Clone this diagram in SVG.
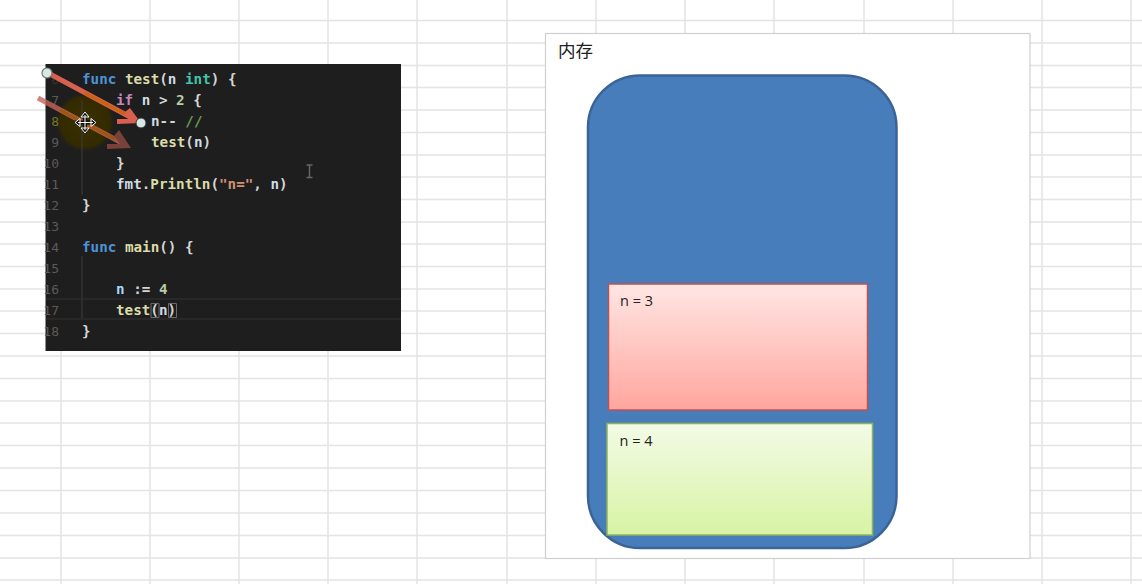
<svg xmlns="http://www.w3.org/2000/svg" width="1142" height="584" viewBox="0 0 1142 584">
<style>
.g{stroke:#e4e4e4;stroke-width:1.5;fill:none}
.c{font-family:"DejaVu Sans Mono","Liberation Mono",monospace;font-size:14.25px;font-weight:700;fill:#d4d4d4}
.ln{font-family:"DejaVu Sans Mono","Liberation Mono",monospace;font-size:13px;fill:#5a5a5a;text-anchor:end}
.k{fill:#4d93d6}.f{fill:#dcdcaa}.t{fill:#45c4ab}.p{fill:#c586c0}.v{fill:#a5d6f5}.w{fill:#d0dce4}.n{fill:#b5cea8}.s{fill:#ce9178}.m{fill:#6a9955}
.lab{font-family:"Open Sans","Liberation Sans",Arial,sans-serif;font-size:14.5px;fill:#222}
</style>
<defs>
<linearGradient id="red" x1="0" y1="0" x2="0" y2="1"><stop offset="0" stop-color="#ffe6e4"/><stop offset="1" stop-color="#ffa69e"/></linearGradient>
<linearGradient id="green" x1="0" y1="0" x2="0" y2="1"><stop offset="0" stop-color="#f3fbe6"/><stop offset="1" stop-color="#d8f3a4"/></linearGradient>
<radialGradient id="glow"><stop offset="0" stop-color="#3a3000"/><stop offset=".8" stop-color="#332a00"/><stop offset="1" stop-color="#1e1e1e" stop-opacity="0"/></radialGradient>
</defs>
<rect width="1142" height="584" fill="#fff"/>
<g id="grid">
<path class="g" d="M61 0V584M150 0V584M239 0V584M328 0V584M417 0V584M507 0V584M596 0V584M685 0V584M774 0V584M864 0V584M953 0V584M1042 0V584M1131 0V584"/>
<path class="g" d="M0 20.500H1142M0 43H1142M0 65.500H1142M0 87.500H1142M0 110H1142M0 132.500H1142M0 155H1142M0 177H1142M0 199.500H1142M0 222H1142M0 244H1142M0 266.500H1142M0 289H1142M0 311H1142M0 333.500H1142M0 356H1142M0 378.500H1142M0 401H1142M0 423H1142M0 445.500H1142M0 468H1142M0 490.500H1142M0 513H1142M0 535.500H1142M0 558H1142M0 580H1142"/>
</g>
<g id="code-panel">
<rect x="45.500" y="64" width="355.500" height="287" fill="#1e1e1e"/>
<circle cx="85" cy="122" r="31" fill="url(#glow)"/>
<path d="M82 100V195M82 256V318" stroke="#3c3c3c" stroke-width="1" fill="none"/>
<path d="M46 299H401M46 319H401" stroke="#333" stroke-width="1" fill="none"/>
<g class="ln">
<text x="59" y="84" style="fill:#333">6</text><text x="59" y="105">7</text><text x="59" y="126" style="fill:#77772a">8</text><text x="59" y="147">9</text><text x="59" y="168">10</text><text x="59" y="189">11</text><text x="59" y="210">12</text><text x="59" y="231">13</text><text x="59" y="252">14</text><text x="59" y="273">15</text><text x="59" y="294">16</text><text x="59" y="315">17</text><text x="59" y="336">18</text>
</g>
<g class="c">
<text x="82" y="84"><tspan class="k">func</tspan> <tspan class="f">test</tspan>(<tspan class="w">n</tspan> <tspan class="t">int</tspan>) {</text>
<text x="116" y="105"><tspan class="p">if</tspan> <tspan class="w">n</tspan> &gt; <tspan class="n">2</tspan> {</text>
<text x="151" y="126"><tspan class="w">n</tspan>-- <tspan class="m">//</tspan></text>
<text x="151" y="147"><tspan class="f">test</tspan>(<tspan class="w">n</tspan>)</text>
<text x="116" y="168">}</text>
<text x="116" y="189"><tspan class="w">fmt</tspan>.<tspan class="f">Println</tspan>(<tspan class="s">"n="</tspan>, <tspan class="w">n</tspan>)</text>
<text x="82" y="210">}</text>
<text x="82" y="252"><tspan class="k">func</tspan> <tspan class="f">main</tspan>() {</text>
<text x="116" y="294"><tspan class="v">n</tspan> := <tspan class="n">4</tspan></text>
<text x="116" y="315"><tspan class="f">test</tspan>(<tspan class="w">n</tspan>)</text>
<text x="82" y="336">}</text>
</g>
<path d="M151 303.500h8v14h-8zM168.500 303.500h8v14h-8z" fill="none" stroke="#6a6a6a" stroke-width="1"/>
</g>
<g id="connectors">
<g opacity=".8">
<line x1="38" y1="98" x2="122" y2="143" stroke="#c9655c" stroke-width="5"/>
<line x1="60" y1="110" x2="115" y2="139" stroke="#b8620f" stroke-width="3"/>
<path d="M107 144L120 144L114 136L119 130L131 148L107 149Z" fill="#8f4a40"/>
</g>
<line x1="50" y1="74" x2="132" y2="118" stroke="#d9604e" stroke-width="5"/>
<line x1="85" y1="93" x2="125" y2="114" stroke="#c8640f" stroke-width="3"/>
<path d="M117 119L131 119L125 112L130 108L141 123L117 124Z" fill="#d9604e"/>
<circle cx="47" cy="73" r="5" fill="#d8e8e4" stroke="#777" stroke-width="1.200"/>
<circle cx="141" cy="123" r="5" fill="#d8e8e4" stroke="#333" stroke-width="1"/>
</g>
<g id="cursors" fill="none">
<path d="M85 112V133M75 122.500H96" stroke="#111" stroke-width="4"/>
<path d="M85 112l-4 5h8zM85 133l-4-5h8zM75 122.500l5-4v8zM96 122.500l-5-4v8z" fill="#111" stroke="#fff" stroke-width="1"/>
<path d="M85 115V130M78 122.500H93" stroke="#fff" stroke-width="1"/>
<path d="M306.500 165h6M306.500 177.500h6M309.500 165v12.500" stroke="#666" stroke-width="1.500"/>
</g>
<g id="memory">
<rect x="545.500" y="33.500" width="484.500" height="525" fill="#fff" stroke="#cfcfcf" stroke-width="1.200"/>
<text x="558" y="57" font-family="'Liberation Sans','Noto Sans CJK SC',sans-serif" font-size="17.500" fill="#222">内存</text>
</g>
<g id="stack">
<rect x="588" y="75.500" width="308.500" height="472.500" rx="52" ry="52" fill="#487dbc" stroke="#3a6496" stroke-width="2.500"/>
</g>
<g id="frame-n3">
<rect x="608.500" y="284" width="259" height="126" fill="url(#red)" stroke="#c0504d" stroke-width="1.500"/>
<text class="lab" x="620" y="306">n = 3</text>
</g>
<g id="frame-n4">
<rect x="607" y="423.500" width="265.500" height="111.500" fill="url(#green)" stroke="#8fb35c" stroke-width="1.500"/>
<text class="lab" x="619.500" y="446">n = 4</text>
</g>
</svg>
